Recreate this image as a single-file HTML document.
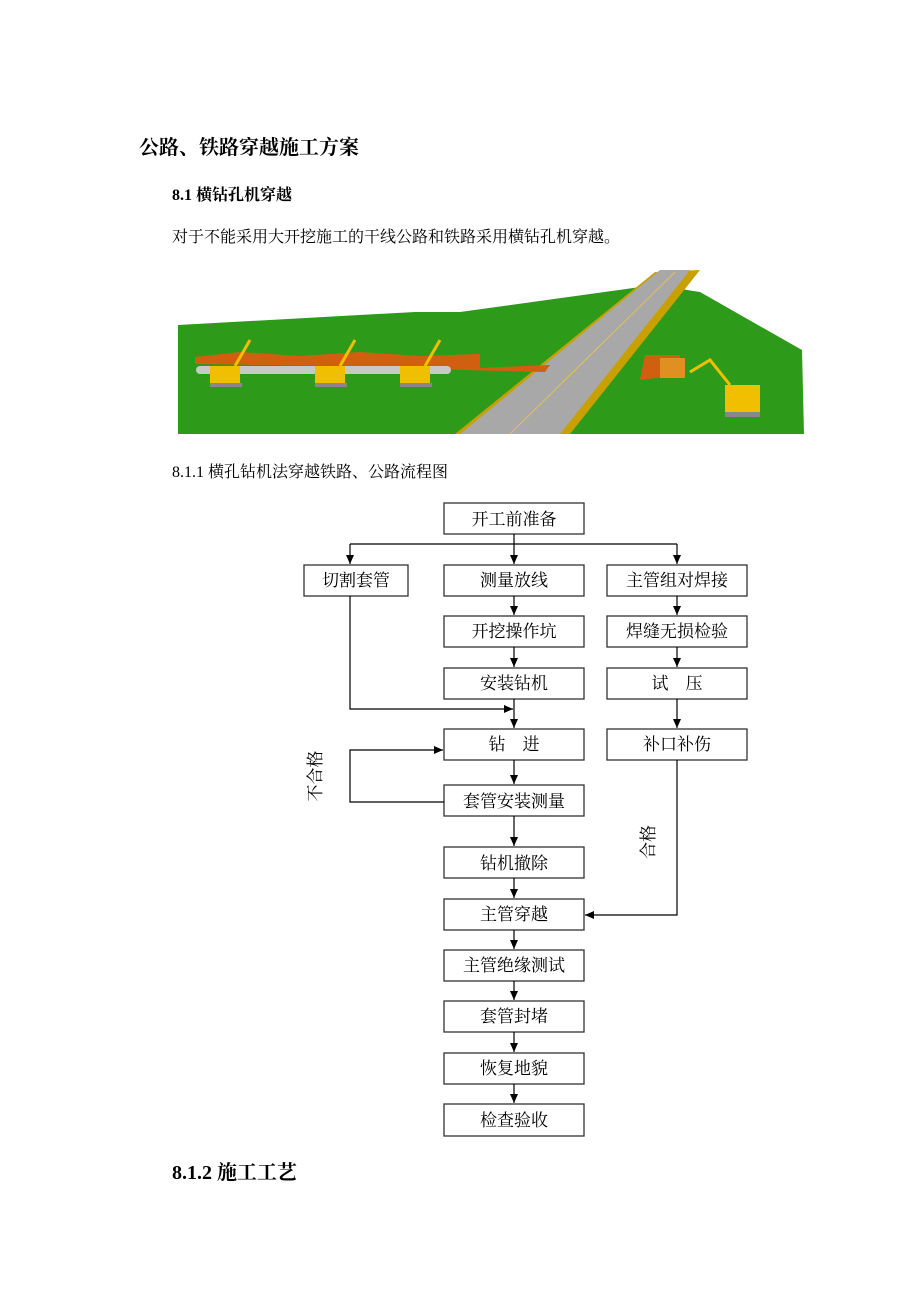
<!DOCTYPE html>
<html><head><meta charset="utf-8"><style>
body{margin:0;background:#fff;}
.pg{position:relative;width:920px;height:1302px;font-family:"Liberation Serif","Noto Serif CJK SC","Noto Sans CJK SC",serif;color:#000;}
.t{position:absolute;white-space:nowrap;}
</style></head><body><div class="pg">
<div class="t" style="left:139px;top:131px;font-size:20px;font-weight:bold;">公路、铁路穿越施工方案</div>
<div class="t" style="left:172px;top:182px;font-size:16px;font-weight:bold;">8.1 横钻孔机穿越</div>
<div class="t" style="left:172px;top:224px;font-size:16px;">对于不能采用大开挖施工的干线公路和铁路采用横钻孔机穿越。</div>
<div class="t" style="left:172px;top:459px;font-size:16px;">8.1.1 横孔钻机法穿越铁路、公路流程图</div>
<div class="t" style="left:172px;top:1156px;font-size:20px;font-weight:bold;">8.1.2 施工工艺</div>

<svg width="920" height="1302" style="position:absolute;left:0;top:0">
<polygon points="178,325 415,312 460,312 655,285 700,292 802,350 804,434 178,434" fill="#2e9a1a"/>
<polygon points="655,272 700,270 570,434 455,434" fill="#c8a000"/>
<polygon points="660,270 690,270 560,434 460,434" fill="#a8a8a8"/>
<line x1="675" y1="272" x2="510" y2="434" stroke="#e0c060" stroke-width="1"/>
<polygon points="195,357 240,352 300,356 360,352 420,356 480,354 480,368 195,364" fill="#d06010"/>
<polygon points="420,356 480,355 480,368 550,365 545,372 462,370 420,368" fill="#d06010"/>
<rect x="196" y="366" width="255" height="8" rx="4" fill="#c8c8c8"/>
<g fill="#f0c000"><rect x="210" y="366" width="30" height="18"/><rect x="315" y="366" width="30" height="18"/><rect x="400" y="366" width="30" height="18"/></g>
<g fill="#888"><rect x="210" y="383" width="32" height="4"/><rect x="315" y="383" width="32" height="4"/><rect x="400" y="383" width="32" height="4"/></g>
<g stroke="#f0c000" stroke-width="3"><line x1="235" y1="366" x2="250" y2="340"/><line x1="340" y1="366" x2="355" y2="340"/><line x1="425" y1="366" x2="440" y2="340"/></g>
<polygon points="645,355 680,355 680,375 640,380" fill="#d06010"/>
<rect x="660" y="358" width="25" height="20" fill="#e09020"/>
<rect x="725" y="385" width="35" height="28" fill="#f0c000"/>
<rect x="725" y="412" width="35" height="5" fill="#888"/>
<polyline points="730,385 710,360 690,372" stroke="#f0c000" stroke-width="3" fill="none"/>
</svg>

<svg width="920" height="1302" style="position:absolute;left:0;top:0;font-family:'Liberation Serif','Noto Serif CJK SC',serif" font-size="17">
<defs><marker id="a" markerWidth="10" markerHeight="10" refX="9" refY="5" orient="auto" markerUnits="userSpaceOnUse"><path d="M0,1 L9,5 L0,9 z" fill="#000"/></marker></defs>
<g fill="#fff" stroke="#333" stroke-width="1.3">
<rect x="444" y="503" width="140" height="31"/>
<rect x="304" y="565" width="104" height="31"/>
<rect x="444" y="565" width="140" height="31"/>
<rect x="607" y="565" width="140" height="31"/>
<rect x="444" y="616" width="140" height="31"/>
<rect x="607" y="616" width="140" height="31"/>
<rect x="444" y="668" width="140" height="31"/>
<rect x="607" y="668" width="140" height="31"/>
<rect x="444" y="729" width="140" height="31"/>
<rect x="607" y="729" width="140" height="31"/>
<rect x="444" y="785" width="140" height="31"/>
<rect x="444" y="847" width="140" height="31"/>
<rect x="444" y="899" width="140" height="31"/>
<rect x="444" y="950" width="140" height="31"/>
<rect x="444" y="1001" width="140" height="31"/>
<rect x="444" y="1053" width="140" height="31"/>
<rect x="444" y="1104" width="140" height="32"/>
</g>
<g stroke="#000" stroke-width="1.2" fill="none">
<line x1="514" y1="534" x2="514" y2="544"/>
<line x1="350" y1="544" x2="677" y2="544"/>
<line x1="350" y1="544" x2="350" y2="564" marker-end="url(#a)"/>
<line x1="514" y1="544" x2="514" y2="564" marker-end="url(#a)"/>
<line x1="677" y1="544" x2="677" y2="564" marker-end="url(#a)"/>
<line x1="514" y1="596" x2="514" y2="615" marker-end="url(#a)"/>
<line x1="677" y1="596" x2="677" y2="615" marker-end="url(#a)"/>
<line x1="514" y1="647" x2="514" y2="667" marker-end="url(#a)"/>
<line x1="677" y1="647" x2="677" y2="667" marker-end="url(#a)"/>
<line x1="677" y1="699" x2="677" y2="728" marker-end="url(#a)"/>
<line x1="514" y1="699" x2="514" y2="728" marker-end="url(#a)"/>
<polyline points="350,596 350,709 513,709" marker-end="url(#a)"/>
<line x1="514" y1="760" x2="514" y2="784" marker-end="url(#a)"/>
<polyline points="444,802 350,802 350,750 443,750" marker-end="url(#a)"/>
<line x1="514" y1="816" x2="514" y2="846" marker-end="url(#a)"/>
<line x1="514" y1="878" x2="514" y2="898" marker-end="url(#a)"/>
<polyline points="677,760 677,915 585,915" marker-end="url(#a)"/>
<line x1="514" y1="930" x2="514" y2="949" marker-end="url(#a)"/>
<line x1="514" y1="981" x2="514" y2="1000" marker-end="url(#a)"/>
<line x1="514" y1="1032" x2="514" y2="1052" marker-end="url(#a)"/>
<line x1="514" y1="1084" x2="514" y2="1103" marker-end="url(#a)"/>
</g>
<g text-anchor="middle" fill="#000">
<text x="514" y="525">开工前准备</text>
<text x="356" y="586">切割套管</text>
<text x="514" y="586">测量放线</text>
<text x="677" y="586">主管组对焊接</text>
<text x="514" y="637">开挖操作坑</text>
<text x="677" y="637">焊缝无损检验</text>
<text x="514" y="689">安装钻机</text>
<text x="677" y="689">试　压</text>
<text x="514" y="750">钻　进</text>
<text x="677" y="750">补口补伤</text>
<text x="514" y="807">套管安装测量</text>
<text x="514" y="869">钻机撤除</text>
<text x="514" y="920">主管穿越</text>
<text x="514" y="971">主管绝缘测试</text>
<text x="514" y="1022">套管封堵</text>
<text x="514" y="1074">恢复地貌</text>
<text x="514" y="1126">检查验收</text>
</g>
<text transform="translate(321,776) rotate(-90)" text-anchor="middle">不合格</text>
<text transform="translate(654,842) rotate(-90)" text-anchor="middle">合格</text>
</svg>
</div></body></html>
